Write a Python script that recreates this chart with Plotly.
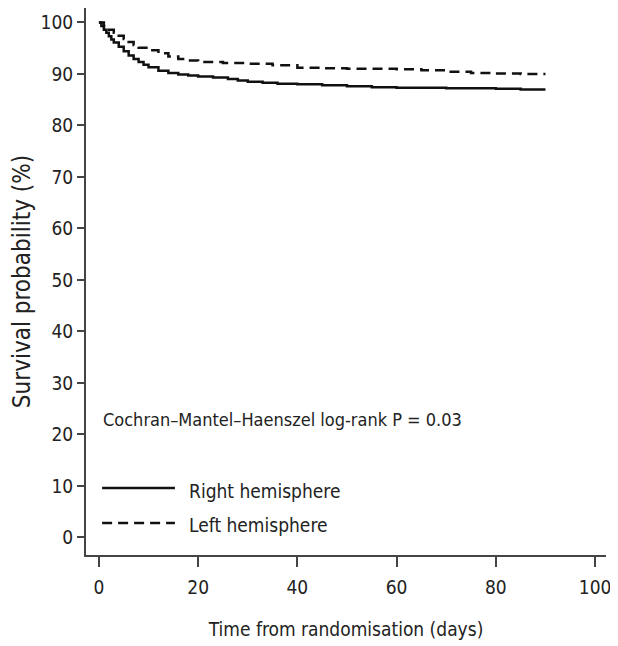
import plotly.graph_objects as go

# Kaplan-Meier estimates
right_days = [0, 0.5, 1, 1.5, 2, 2.5, 3, 4, 5, 6, 7, 8, 9, 10, 12, 14, 16, 18, 20, 23, 26, 28, 30, 33, 36, 40, 45, 50, 55, 60, 65, 70, 75, 80, 85, 90]
right_surv = [100, 99.3, 98.6, 98.0, 97.3, 96.7, 96.1, 95.3, 94.4, 93.6, 92.9, 92.3, 91.8, 91.3, 90.6, 90.2, 89.9, 89.7, 89.5, 89.3, 89.0, 88.7, 88.5, 88.3, 88.1, 88.0, 87.8, 87.6, 87.4, 87.3, 87.3, 87.2, 87.2, 87.1, 87.0, 87.0]

left_days = [0, 1, 2, 3, 4, 5, 6, 7, 8, 10, 12, 14, 16, 18, 20, 25, 30, 35, 40, 45, 50, 55, 60, 65, 70, 75, 80, 85, 90]
left_surv = [100, 99.3, 98.6, 98.0, 97.4, 96.8, 96.2, 95.6, 95.1, 94.6, 94.0, 93.4, 92.9, 92.6, 92.3, 92.1, 92.0, 91.7, 91.2, 91.1, 91.0, 91.0, 90.9, 90.7, 90.4, 90.2, 90.1, 90.0, 90.0]

x_ticks = [0, 20, 40, 60, 80, 100]
y_ticks = [0, 10, 20, 30, 40, 50, 60, 70, 80, 90, 100]

FONT = "DejaVu Sans Condensed, Liberation Sans Narrow, Arial Narrow, Arial, sans-serif"

fig = go.Figure()
fig.add_trace(go.Scatter(x=right_days, y=right_surv, mode="lines", line_shape="hv",
                         line=dict(color="#111", width=2.5), name="Right hemisphere"))
fig.add_trace(go.Scatter(x=left_days, y=left_surv, mode="lines", line_shape="hv",
                         line=dict(color="#111", width=2.5, dash="10px,6px"), name="Left hemisphere"))

# legend drawn manually
fig.add_shape(type="line", xref="paper", yref="paper", x0=0.031, x1=0.171, y0=0.1225, y1=0.1225,
              line=dict(color="#111", width=2.5))
fig.add_shape(type="line", xref="paper", yref="paper", x0=0.031, x1=0.171, y0=0.0585, y1=0.0585,
              line=dict(color="#111", width=2.5, dash="10px,6px"))
fig.add_annotation(xref="paper", yref="paper", x=0.194, y=0.117, xanchor="left", yanchor="middle",
                   text="Right hemisphere", showarrow=False, font=dict(size=19, color="#222", family=FONT))
fig.add_annotation(xref="paper", yref="paper", x=0.194, y=0.055, xanchor="left", yanchor="middle",
                   text="Left hemisphere", showarrow=False, font=dict(size=19, color="#222", family=FONT))
fig.add_annotation(xref="paper", yref="paper", x=0.029, y=0.247, xanchor="left", yanchor="middle",
                   text="Cochran–Mantel–Haenszel log-rank P = 0.03", showarrow=False,
                   font=dict(size=18, color="#222", family=FONT))

# page body has an 8px margin, so the figure is sized to fit the remaining window
fig.update_layout(
    width=610, height=638,
    margin=dict(l=78, r=12, t=0, b=91),
    paper_bgcolor="white", plot_bgcolor="white",
    showlegend=False,
    font=dict(family=FONT, size=19, color="#222"),
)
fig.update_xaxes(range=[-2.6, 102.2], tickvals=x_ticks, showgrid=False, zeroline=False,
                 showline=True, linecolor="#444", linewidth=2, ticks="outside", ticklen=10,
                 tickwidth=1.5, tickcolor="#444", tickfont=dict(size=19), automargin=False,
                 ticklabelstandoff=4,
                 title=dict(text="Time from randomisation (days)", font=dict(size=19), standoff=26))
fig.update_yaxes(range=[-3.4, 102.8], tickvals=y_ticks, showgrid=False, zeroline=False,
                 showline=True, linecolor="#444", linewidth=2, ticks="outside", ticklen=7,
                 tickwidth=1.5, tickcolor="#444", tickfont=dict(size=19), automargin=False,
                 title=dict(text="Survival probability (%)", font=dict(size=24), standoff=8))

fig.write_html("out.html")
